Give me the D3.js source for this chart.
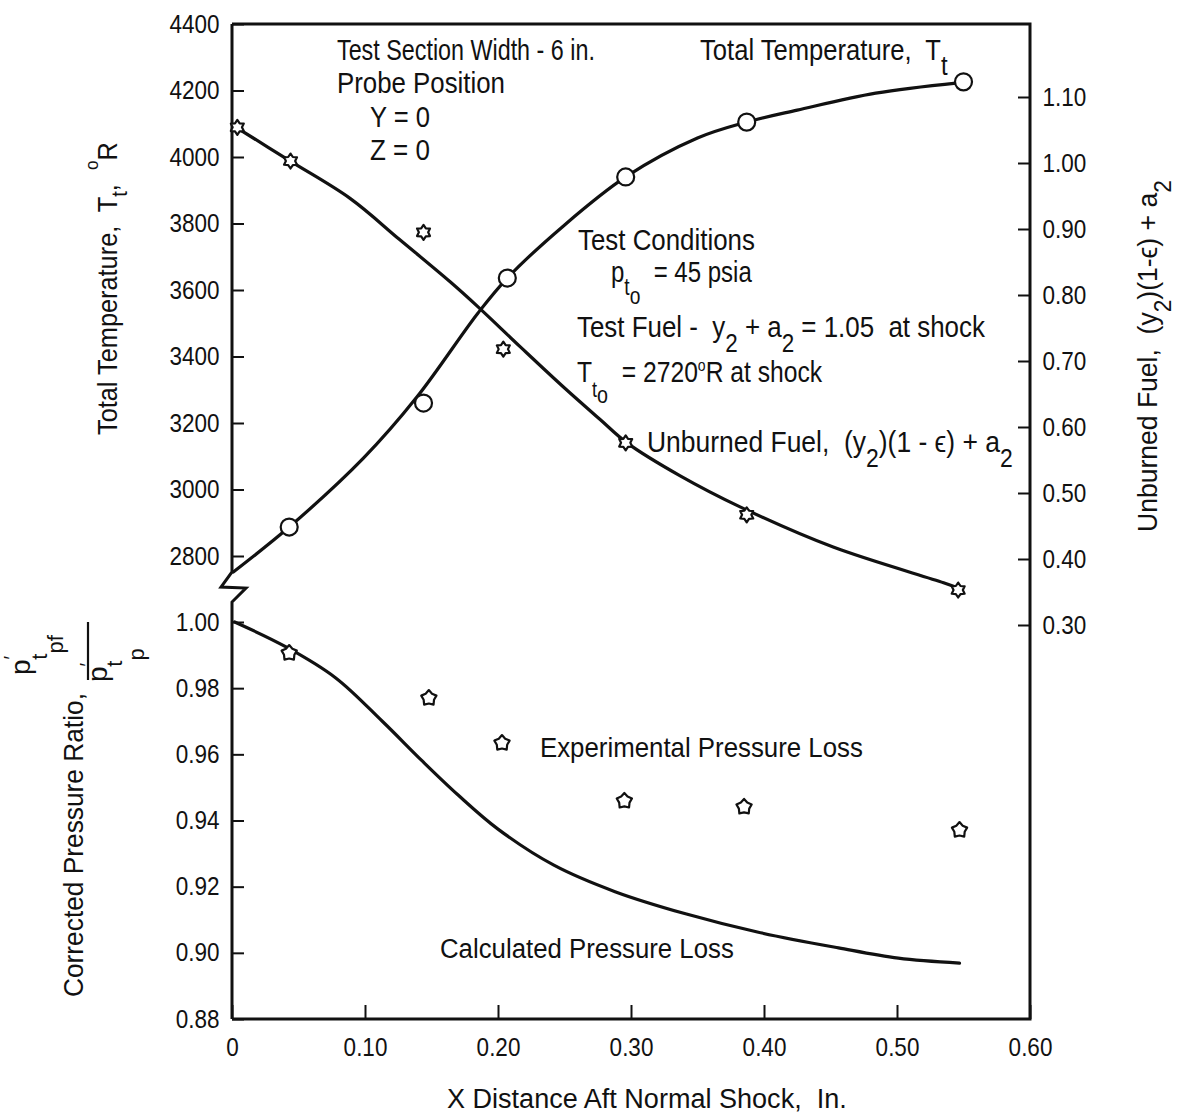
<!DOCTYPE html>
<html>
<head>
<meta charset="utf-8">
<script src="https://cdn.jsdelivr.net/npm/d3@7"></script>
<style>
  body { margin: 0; background: #fff; }
  svg text { font-family: 'Liberation Sans', Arial, sans-serif; fill: #111; white-space: pre; }
</style>
</head>
<body>
<svg id="chart" width="1179" height="1119"></svg>
<script>
// ---- data ----
var xTicks = [0, 0.10, 0.20, 0.30, 0.40, 0.50, 0.60];
var tempTicks = [2800, 3000, 3200, 3400, 3600, 3800, 4000, 4200, 4400];
var fuelTicks = [0.30, 0.40, 0.50, 0.60, 0.70, 0.80, 0.90, 1.00, 1.10];
var pressTicks = [0.88, 0.90, 0.92, 0.94, 0.96, 0.98, 1.00];

// total temperature (circles) and faired curve
var tempPtX = [0.043, 0.144, 0.207, 0.296, 0.387, 0.550];
var tempPtT = [2887, 3260, 3636, 3940, 4105, 4226];
var tempLineX = [0.001, 0.043, 0.099, 0.139, 0.185, 0.207, 0.249, 0.296, 0.350, 0.387, 0.425, 0.484, 0.546];
var tempLineT = [2752, 2887, 3095, 3278, 3531, 3636, 3792, 3940, 4057, 4105, 4141, 4192, 4223];

// unburned fuel (stars) and faired curve
var fuelPtX = [0.004, 0.044, 0.144, 0.204, 0.296, 0.387, 0.546];
var fuelPtV = [1.054, 1.003, 0.895, 0.718, 0.576, 0.467, 0.353];
var fuelLineX = [0.004, 0.042, 0.089, 0.126, 0.164, 0.185, 0.217, 0.249, 0.277, 0.297, 0.337, 0.382, 0.452, 0.535, 0.546];
var fuelLineV = [1.053, 1.005, 0.946, 0.884, 0.820, 0.782, 0.721, 0.661, 0.611, 0.576, 0.526, 0.479, 0.418, 0.364, 0.356];

// corrected pressure ratio: experimental points and calculated curve
var pressPtX = [0.043, 0.148, 0.203, 0.295, 0.385, 0.547];
var pressPtV = [0.9906, 0.9770, 0.9634, 0.9459, 0.9441, 0.9371];
var calcLineX = [0.002, 0.041, 0.078, 0.113, 0.143, 0.170, 0.200, 0.242, 0.288, 0.341, 0.395, 0.456, 0.501, 0.547];
var calcLineV = [1.000, 0.9924, 0.9831, 0.9700, 0.9580, 0.9477, 0.9374, 0.9265, 0.9185, 0.9118, 0.9063, 0.9015, 0.8984, 0.8969];

var svg = d3.select('#chart');

// scales: one x, three y (temperature top-left, fuel right, pressure bottom-left)
var x = d3.scaleLinear().domain([0, 0.6]).range([232, 1030]);
var yT = d3.scaleLinear().domain([2800, 4400]).range([556, 24]);
var yF = d3.scaleLinear().domain([0.30, 1.10]).range([625, 97]);
var yP = d3.scaleLinear().domain([0.88, 1.00]).range([1019, 622]);

var fmt2 = d3.format('.2f');

// frame: top, right and bottom
svg.append('path')
  .attr('d', 'M' + x(0) + ',' + yT(4400) + 'H' + x(0.6) + 'V' + yP(0.88) + 'H' + x(0))
  .attr('fill', 'none').attr('stroke', '#111').attr('stroke-width', 3);

// left spine with the zigzag break between the two scales
svg.append('path')
  .attr('d', 'M' + x(0) + ',' + yT(4400) + 'V' + (yT(2800) + 16) +
    'l-11,15 l25,1 l-14,14 V' + yP(0.88))
  .attr('fill', 'none').attr('stroke', '#111').attr('stroke-width', 3)
  .attr('stroke-linejoin', 'miter');

function styleAxis(g) {
  g.select('.domain').remove();
  g.attr('font-size', 25).attr('font-family', null);
  g.selectAll('.tick line').attr('stroke', '#111').attr('stroke-width', 2);
  g.selectAll('.tick text').attr('fill', '#111').attr('transform', 'scale(0.9,1)');
}

svg.append('g')
  .attr('transform', 'translate(' + x(0) + ',0)')
  .call(d3.axisLeft(yT).tickValues(tempTicks).tickSize(-12).tickPadding(14).tickFormat(d3.format('d')))
  .call(styleAxis);

svg.append('g')
  .attr('transform', 'translate(' + x(0) + ',0)')
  .call(d3.axisLeft(yP).tickValues(pressTicks).tickSize(-12).tickPadding(14).tickFormat(fmt2))
  .call(styleAxis);

svg.append('g')
  .attr('transform', 'translate(' + x(0.6) + ',0)')
  .call(d3.axisRight(yF).tickValues(fuelTicks).tickSize(-12).tickPadding(14).tickFormat(fmt2))
  .call(styleAxis);

svg.append('g')
  .attr('transform', 'translate(0,' + yP(0.88) + ')')
  .call(d3.axisBottom(x).tickValues(xTicks).tickSize(-14).tickPadding(19)
    .tickFormat(function(d) { return d === 0 ? '0' : fmt2(d); }))
  .call(styleAxis);

// curves
function drawCurve(xs, vs, yScale) {
  var line = d3.line()
    .x(function(d) { return x(d[0]); })
    .y(function(d) { return yScale(d[1]); })
    .curve(d3.curveCatmullRom.alpha(0.5));
  svg.append('path')
    .datum(d3.zip(xs, vs))
    .attr('d', line)
    .attr('fill', 'none').attr('stroke', '#111').attr('stroke-width', 3.2)
    .attr('stroke-linecap', 'round');
}
drawCurve(tempLineX, tempLineT, yT);
drawCurve(fuelLineX, fuelLineV, yF);
drawCurve(calcLineX, calcLineV, yP);

// star symbol with n points, inner/outer radius ratio k (size = r^2)
function starType(n, k) {
  return {
    draw: function(ctx, size) {
      var r = Math.sqrt(size);
      for (var i = 0; i < 2 * n; i++) {
        var a = i * Math.PI / n - Math.PI / 2;
        var rr = i % 2 ? r * k : r;
        if (i === 0) ctx.moveTo(rr * Math.cos(a), rr * Math.sin(a));
        else ctx.lineTo(rr * Math.cos(a), rr * Math.sin(a));
      }
      ctx.closePath();
    }
  };
}

function drawMarks(xs, vs, yScale, symbol) {
  svg.append('g').selectAll('path')
    .data(d3.zip(xs, vs))
    .enter().append('path')
      .attr('transform', function(d) { return 'translate(' + x(d[0]) + ',' + yScale(d[1]) + ')'; })
      .attr('d', symbol)
      .attr('fill', '#fff').attr('stroke', '#111').attr('stroke-width', 2.2)
      .attr('stroke-linejoin', 'round');
}
drawMarks(tempPtX, tempPtT, yT, d3.symbol().type(d3.symbolCircle).size(Math.PI * 8.5 * 8.5));
drawMarks(fuelPtX, fuelPtV, yF, d3.symbol().type(starType(6, 0.62)).size(56));
drawMarks(pressPtX, pressPtV, yP, d3.symbol().type(starType(5, 0.68)).size(64));

// text helper: parts may be shifted up/down (sub/superscripts); optional fit to width
function label(px, py, parts, opt) {
  opt = opt || {};
  var g = svg.append('g')
    .attr('transform', 'translate(' + px + ',' + py + ')' + (opt.rotate ? ' rotate(' + opt.rotate + ')' : ''));
  var t = g.append('text').attr('font-size', opt.size || 30);
  var shift = 0;
  parts.forEach(function(p) {
    if (typeof p === 'string') p = { t: p };
    var s = p.shift || 0;
    var ts = t.append('tspan').attr('dy', s - shift).text(p.t);
    if (p.size) ts.attr('font-size', p.size);
    if (p.dx) ts.attr('dx', p.dx);
    shift = s;
  });
  if (opt.w) {
    var bw = t.node().getBBox().width;
    t.attr('transform', 'scale(' + (opt.w / bw) + ',1)');
  } else if (opt.sx) {
    t.attr('transform', 'scale(' + opt.sx + ',1)');
  }
  return t;
}

// annotations, upper panel
label(337, 60, ['Test Section Width - 6 in.'], { w: 258 });
label(337, 93, ['Probe Position'], { w: 168 });
label(370, 127, ['Y = 0'], { w: 60 });
label(370, 160, ['Z = 0'], { w: 60 });
label(700, 60, ['Total Temperature,  T', { t: 't', shift: 15, size: 28 }], { w: 248 });
label(578, 250, ['Test Conditions'], { w: 177 });
label(611, 282, ['p', { t: 't', shift: 13, size: 24 }, { t: 'o', shift: 22, size: 24 }, { t: '  = 45 psia', shift: 0 }], { w: 141 });
label(577, 337, ['Test Fuel -  y', { t: '2', shift: 15, size: 26 }, { t: ' + a', shift: 0 }, { t: '2', shift: 15, size: 26 },
  { t: ' = 1.05  at shock', shift: 0 }], { w: 409 });
label(577, 382, ['T', { t: 't', shift: 15, size: 22 }, { t: 'o', shift: 21, size: 24 }, { t: '  = 2720', shift: 0 },
  { t: 'o', shift: -11, size: 17 }, { t: 'R at shock', shift: 0 }], { w: 246 });
label(647, 452, ['Unburned Fuel,  (y', { t: '2', shift: 15, size: 26 }, { t: ')(1 - \u03f5) + a', shift: 0 },
  { t: '2', shift: 15, size: 26 }], { w: 366 });

// annotations, lower panel
label(540, 757, ['Experimental Pressure Loss'], { w: 323, size: 27 });
label(440, 958, ['Calculated Pressure Loss'], { w: 294, size: 28 });

// axis titles
label(447, 1108, ['X Distance Aft Normal Shock,  In.'], { w: 400, size: 28 });
label(117, 435, ['Total Temperature,  T', { t: 't', shift: 10, size: 22 }, { t: ',  ', shift: 0 },
  { t: 'o', shift: -19, size: 19 }, { t: 'R', shift: 0 }], { w: 293, size: 28, rotate: -90 });
label(1157, 532, ['Unburned Fuel,  (y', { t: '2', shift: 14, size: 24 }, { t: ')(1-\u03f5) + a', shift: 0 },
  { t: '2', shift: 14, size: 24 }], { w: 352, size: 28, rotate: -90 });
label(83, 997, ['Corrected Pressure Ratio,'], { w: 304, size: 28, rotate: -90 });

// pressure ratio fraction p't,pf / p't,p
svg.append('line')
  .attr('x1', 88).attr('x2', 88).attr('y1', 622).attr('y2', 680)
  .attr('stroke', '#111').attr('stroke-width', 2.2);
label(30, 675, ['p', { t: '\u2032', shift: -12, size: 20 }, { t: 't', shift: 17, size: 22, dx: -4 },
  { t: 'pf', shift: 33, size: 22 }], { size: 28, rotate: -90 });
label(107, 682, ['p', { t: '\u2032', shift: -13, size: 20 }, { t: 't', shift: 15, size: 22, dx: -4 },
  { t: 'p', shift: 37, size: 22 }], { size: 28, rotate: -90 });
</script>
</body>
</html>
